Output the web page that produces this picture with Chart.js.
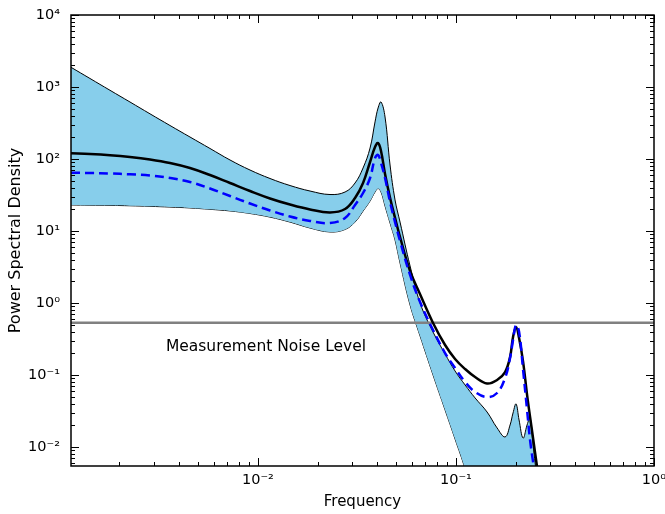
<!DOCTYPE html>
<html><head><meta charset="utf-8">
<script src="https://cdn.jsdelivr.net/npm/chart.js@4/dist/chart.umd.min.js"></script>
<style>html,body{margin:0;padding:0;background:#fff}canvas{display:block}</style>
</head><body>
<canvas id="c" width="665" height="514"></canvas>
<script>
const frequencies = [0.001138, 0.001419, 0.001791, 0.002259, 0.002851, 0.003597, 0.004539, 0.005728, 0.007228, 0.009121,
  0.011508, 0.014526, 0.018330, 0.02312, 0.02754, 0.03093, 0.03395, 0.03683, 0.03902, 0.04043,
  0.04184, 0.04384, 0.04647, 0.04925, 0.05220, 0.05865, 0.06589, 0.07660, 0.08811, 0.09896,
  0.1112, 0.1249, 0.1436, 0.1613, 0.1770, 0.1876, 0.1942, 0.2011, 0.2083, 0.2183,
  0.2286, 0.2367, 0.2451, 0.2568];
const meanPSD = [120.0, 117.3, 112.9, 106.6, 98.4, 88.0, 75.0, 59.9, 46.4, 35.9,
  28.3, 23.3, 19.9, 18.1, 20.2, 28.7, 46.4, 90.9, 146.8, 166.8,
  129, 62, 29, 15.2, 8.25, 2.78, 1.32, 0.528, 0.261, 0.167,
  0.121, 0.0938, 0.0762, 0.0853, 0.110, 0.178, 0.337, 0.464, 0.327, 0.152,
  0.0528, 0.0261, 0.0133, 0.00527];
const medianPSD = [64.5, 63.9, 62.9, 61.3, 59.0, 54.5, 47.9, 38.9, 30.6, 24.1,
  19.3, 15.9, 13.8, 12.9, 15.2, 23.0, 33.7, 54.5, 103, 113.6,
  88, 54.5, 25.3, 13.3, 7.27, 2.45, 1.03, 0.422, 0.202, 0.125,
  0.080, 0.0581, 0.0494, 0.0562, 0.0908, 0.172, 0.306, 0.495, 0.40, 0.117,
  0.0327, 0.0125, 0.0062, 0.00253];
const upperPSD = [1878, 1313, 900, 619, 424, 292, 202, 140, 96.9, 70.3,
  53.6, 42.8, 35.9, 32.1, 34.8, 46.4, 75, 142, 327, 511,
  619, 383, 82.5, 27, 13.3, 3.27, 1.0, 0.395, 0.196, 0.1137,
  0.0727, 0.048, 0.0306, 0.0184, 0.0138, 0.0202, 0.0297, 0.0396, 0.0237, 0.0133,
  0.0202, 0.0253, 0.01067, 0.00348];
const lowerPSD = [23.0, 22.8, 22.7, 22.4, 22.0, 21.5, 20.9, 20.0, 19.0, 17.5,
  15.6, 13.3, 11.0, 9.69, 10.5, 13.3, 18.9, 26.1, 34.8, 38.9,
  34.8, 22.2, 12.9, 7.50, 3.59, 0.938, 0.348, 0.100, 0.0327, 0.0129,
  0.00495, 0.00152, 0.00048, 0.000184, 0.000085, 0.00006, 0.00005, 0.00004, 0.000033, 0.000027,
  0.000022, 0.000019, 0.000016, 0.000013];
const noiseLevel = 0.53;
const noiseLabel = 'Measurement Noise Level';
const noiseLabelAt = [0.00343, 0.212];
const xTickValues = [0.01, 0.1, 1];
const yTickValues = [1e-2, 1e-1, 1, 10, 100, 1000, 10000];
const xLimits = [0.001138, 1];
const yLimits = [0.005445, 10000];

Chart.defaults.font.family = '"DejaVu Sans", sans-serif';
Chart.defaults.color = '#000';

const SUP = {'-':'\u207B','0':'\u2070','1':'\u00B9','2':'\u00B2','3':'\u00B3','4':'\u2074','5':'\u2075','6':'\u2076','7':'\u2077','8':'\u2078','9':'\u2079'};
function pow10Label(v){
  const e = Math.round(Math.log10(v));
  return '10' + String(e).split('').map(c => SUP[c]).join('');
}
const pts = arr => frequencies.map((f, i) => ({x: f, y: arr[i]}));

const frame = {
  id: 'frame',
  afterDraw(chart){
    const {ctx, chartArea: a, scales: {x, y}} = chart;
    ctx.save();
    ctx.strokeStyle = '#000';
    ctx.lineWidth = 1;
    const seg = (x1, y1, x2, y2) => { ctx.beginPath(); ctx.moveTo(x1, y1); ctx.lineTo(x2, y2); ctx.stroke(); };
    for (let e = -3; e <= 0; e++) for (let m = 1; m <= 9; m++) {
      const v = m * Math.pow(10, e);
      if (v < xLimits[0] * 0.999 || v > xLimits[1] * 1.001) continue;
      const px = Math.round(x.getPixelForValue(v)) + 0.5;
      const L = m === 1 ? 8 : 4;
      seg(px, a.bottom, px, a.bottom - L);
      seg(px, a.top, px, a.top + L);
    }
    for (let e = -3; e <= 4; e++) for (let m = 1; m <= 9; m++) {
      const v = m * Math.pow(10, e);
      if (v < yLimits[0] * 0.999 || v > yLimits[1] * 1.001) continue;
      const py = Math.round(y.getPixelForValue(v)) + 0.5;
      const L = m === 1 ? 8 : 4;
      seg(a.left, py, a.left + L, py);
      seg(a.right, py, a.right - L, py);
    }
    ctx.lineWidth = 1.5;
    ctx.strokeRect(a.left, a.top, a.right - a.left, a.bottom - a.top);
    ctx.font = '15.5px "DejaVu Sans"';
    ctx.fillStyle = '#000';
    ctx.textBaseline = 'alphabetic';
    ctx.textAlign = 'left';
    ctx.fillText(noiseLabel, x.getPixelForValue(noiseLabelAt[0]), y.getPixelForValue(noiseLabelAt[1]));
    ctx.restore();
  }
};

const common = {pointRadius: 0, pointHoverRadius: 0, tension: 0.4, fill: false};

new Chart(document.getElementById('c'), {
  type: 'line',
  data: {
    datasets: [
      Object.assign({label: 'median', data: pts(medianPSD), borderColor: '#0000ff', borderWidth: 2.5, borderDash: [9, 5]}, common),
      Object.assign({label: 'mean', data: pts(meanPSD), borderColor: '#000000', borderWidth: 2.5}, common),
      Object.assign({label: 'noise', data: [{x: xLimits[0], y: noiseLevel}, {x: xLimits[1], y: noiseLevel}], borderColor: '#808080', borderWidth: 2.5}, common),
      Object.assign({}, common, {label: 'upper', data: pts(upperPSD), borderColor: '#000000', borderWidth: 1, fill: '+1', backgroundColor: '#87ceeb'}),
      Object.assign({label: 'lower', data: pts(lowerPSD), borderColor: '#000000', borderWidth: 1}, common)
    ]
  },
  options: {
    responsive: false,
    animation: false,
    devicePixelRatio: 1,
    layout: {padding: {top: 15, right: 11, left: 0, bottom: 0}},
    plugins: {legend: {display: false}, tooltip: {enabled: false}},
    scales: {
      x: {
        type: 'logarithmic', min: xLimits[0], max: xLimits[1],
        afterBuildTicks: s => { s.ticks = xTickValues.map(v => ({value: v})); },
        afterFit: s => { s.height = 48; s.paddingLeft = 0; s.paddingRight = 0; s.paddingTop = 0; s.paddingBottom = 0; },
        grid: {display: false, drawTicks: false},
        border: {display: false},
        ticks: {autoSkip: false, maxRotation: 0, padding: 6, font: {size: 14.5}, color: '#000', callback: v => pow10Label(v)},
        title: {display: true, text: 'Frequency', font: {size: 15}, color: '#000', padding: {top: 0, bottom: 3}}
      },
      y: {
        type: 'logarithmic', min: yLimits[0], max: yLimits[1],
        afterBuildTicks: s => { s.ticks = yTickValues.map(v => ({value: v})); },
        afterFit: s => { s.width = 71; s.paddingLeft = 0; s.paddingRight = 0; s.paddingTop = 0; s.paddingBottom = 0; },
        grid: {display: false, drawTicks: false},
        border: {display: false},
        ticks: {autoSkip: false, padding: 11, font: {size: 14.5}, color: '#000', callback: v => pow10Label(v)},
        title: {display: true, text: 'Power Spectral Density', font: {size: 16}, color: '#000', padding: {top: 6, bottom: 0}}
      }
    }
  },
  plugins: [frame]
});
</script>
</body></html>
